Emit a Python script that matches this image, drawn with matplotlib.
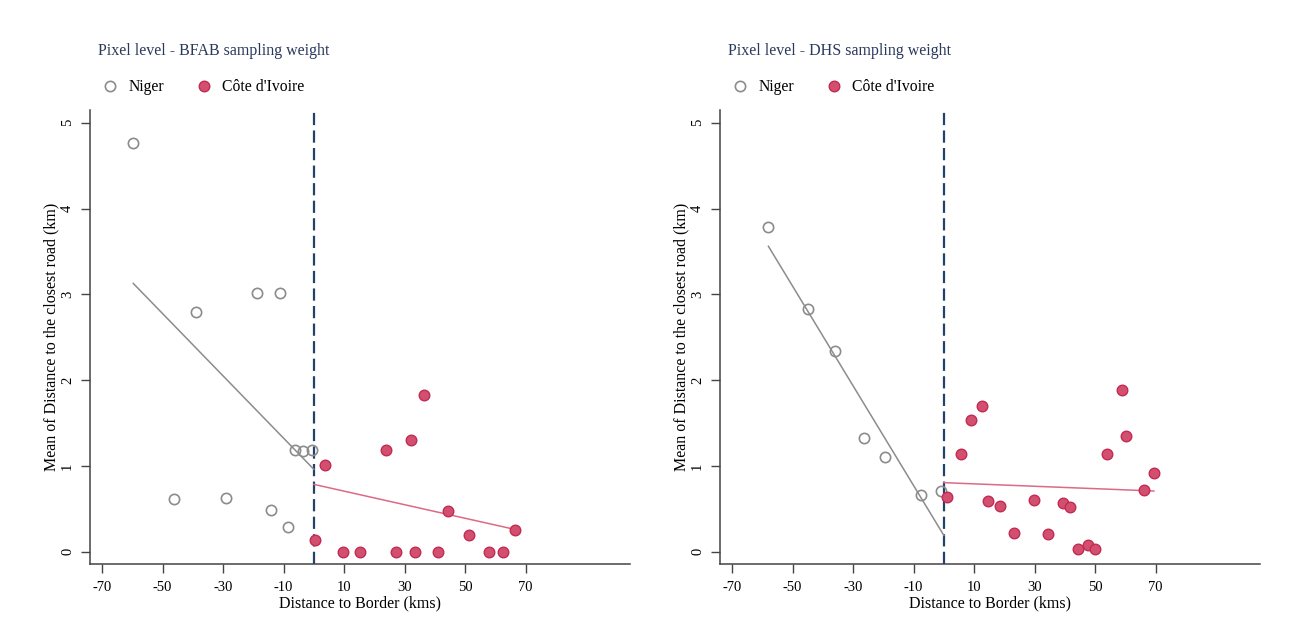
import numpy as np
import matplotlib
matplotlib.use("Agg")
import matplotlib.pyplot as plt
from matplotlib.lines import Line2D

plt.rcParams["font.family"] = ["Liberation Serif", "DejaVu Serif"]

# ---- Panel 1: BFAB sampling weight ----
bfab_niger_x = [-59.7, -46.2, -39.0, -28.9, -18.9, -14.3, -11.1, -8.7, -6.3, -3.5, -0.7]
bfab_niger_y = [4.76, 0.62, 2.79, 0.63, 3.01, 0.49, 3.01, 0.29, 1.19, 1.17, 1.19]
bfab_civ_x = [0.3, 3.6, 9.5, 15.4, 24.0, 27.0, 32.0, 33.4, 36.5, 41.0, 44.3, 51.3, 58.0, 62.4, 66.5]
bfab_civ_y = [0.14, 1.01, 0.0, 0.0, 1.19, 0.0, 1.30, 0.0, 1.83, 0.0, 0.475, 0.195, 0.0, 0.0, 0.253]
# linear fits: (intercept, slope, x_start, x_end)
bfab_niger_fit = (0.96, -0.0363, -59.7, 0.0)
bfab_civ_fit = (0.785, -0.0079, 0.0, 66.5)

# ---- Panel 2: DHS sampling weight ----
dhs_niger_x = [-58.1, -44.9, -35.9, -26.4, -19.4, -7.6, -1.0]
dhs_niger_y = [3.78, 2.825, 2.34, 1.32, 1.10, 0.665, 0.71]
dhs_civ_x = [0.9, 5.6, 9.1, 12.6, 14.7, 18.5, 23.1, 29.8, 34.5, 39.5, 41.8, 44.5, 47.5,
             50.1, 53.8, 58.8, 60.2, 66.3, 69.4]
dhs_civ_y = [0.634, 1.136, 1.53, 1.70, 0.595, 0.533, 0.214, 0.607, 0.21, 0.568, 0.525, 0.035,
             0.078, 0.031, 1.14, 1.887, 1.354, 0.72, 0.922]
dhs_niger_fit = (0.19, -0.0581, -58.0, 0.0)
dhs_civ_fit = (0.805, -0.0014, 0.0, 69.4)

panel_titles = ["Pixel level - BFAB sampling weight", "Pixel level - DHS sampling weight"]
group_labels = ["Niger", "Côte d'Ivoire"]
x_ticks = [-70, -50, -30, -10, 10, 30, 50, 70]
y_ticks = [0, 1, 2, 3, 4, 5]
x_label = "Distance to Border (kms)"
y_label = "Mean of Distance to the closest road (km)"

NIGER_C = "#8c8c8c"
CIV_FACE = "#d24f70"
CIV_EDGE = "#c42a52"
CIV_LINE = "#dc6a86"
BORDER_C = "#23426a"
AXIS_C = "#444444"
TITLE_C = "#2a3a5c"

W, H = 1294, 643
fig = plt.figure(figsize=(W / 100, H / 100), dpi=100)

panels = [
    (bfab_niger_x, bfab_niger_y, bfab_civ_x, bfab_civ_y, bfab_niger_fit, bfab_civ_fit),
    (dhs_niger_x, dhs_niger_y, dhs_civ_x, dhs_civ_y, dhs_niger_fit, dhs_civ_fit),
]
ax_left_px = [90, 720]
ax_w_px, ax_top_px, ax_bot_px = 540, 110, 564
ax_h_px = ax_bot_px - ax_top_px

for i, (nx, ny, cx, cy, nfit, cfit) in enumerate(panels):
    ax = fig.add_axes([ax_left_px[i] / W, (H - ax_bot_px) / H,
                       ax_w_px / W, ax_h_px / H])
    ax.set_xlim(-74.0, 104.5)
    ax.set_ylim(-0.143, 5.148)

    # border cutoff
    ax.axvline(0, color=BORDER_C, lw=1.6, linestyle=(0, (5.5, 2.4)), zorder=2)

    # fitted lines
    for (b0, b1, xa, xb), col in [(nfit, NIGER_C), (cfit, CIV_LINE)]:
        xs = np.array([xa, xb])
        ax.plot(xs, b0 + b1 * xs, color=col, lw=1.1, zorder=3)

    ax.plot(nx, ny, linestyle="none", marker="o", ms=7.4, mfc="none",
            mec=NIGER_C, mew=1.2, zorder=4)
    ax.plot(cx, cy, linestyle="none", marker="o", ms=7.6, mfc=CIV_FACE,
            mec=CIV_EDGE, mew=1.0, zorder=5)

    for s in ["top", "right"]:
        ax.spines[s].set_visible(False)
    for s in ["left", "bottom"]:
        ax.spines[s].set_color(AXIS_C)
        ax.spines[s].set_linewidth(1.1)

    ax.set_xticks(x_ticks)
    ax.set_xticklabels([str(t) for t in x_ticks])
    ax.set_yticks(y_ticks)
    ax.set_yticklabels([str(t) for t in y_ticks], rotation=90, va="center")
    ax.tick_params(axis="both", colors=AXIS_C, labelcolor="black", length=6.5,
                   width=1.0, labelsize=10.5)
    ax.tick_params(axis="x", pad=6)
    ax.tick_params(axis="y", pad=5)

    ax.set_xlabel(x_label, fontsize=11.5)
    ax.xaxis.set_label_coords(0.5, (ax_bot_px - 603) / ax_h_px)
    ax.xaxis.label.set_va("center")
    ax.set_ylabel(y_label, fontsize=11.5)
    ax.yaxis.set_label_coords(-38.3 / ax_w_px, 0.5)
    ax.yaxis.label.set_va("center")

    ax.text(0.014, 1 + (ax_top_px - 51) / ax_h_px, panel_titles[i],
            transform=ax.transAxes, ha="left", va="center", fontsize=11.5, color=TITLE_C)

    handles = [
        Line2D([], [], linestyle="none", marker="o", ms=7.4, mfc="none", mec=NIGER_C, mew=1.2),
        Line2D([], [], linestyle="none", marker="o", ms=7.6, mfc=CIV_FACE, mec=CIV_EDGE, mew=1.0),
    ]
    ax.legend(handles, group_labels, ncol=2, frameon=False, fontsize=11.3,
              loc="center left",
              bbox_to_anchor=(12.0 / ax_w_px, 1 + (ax_top_px - 87) / ax_h_px),
              borderpad=0, borderaxespad=0, handlelength=1.05, handletextpad=0.65,
              columnspacing=2.0)

fig.savefig("out.png", dpi=100)
